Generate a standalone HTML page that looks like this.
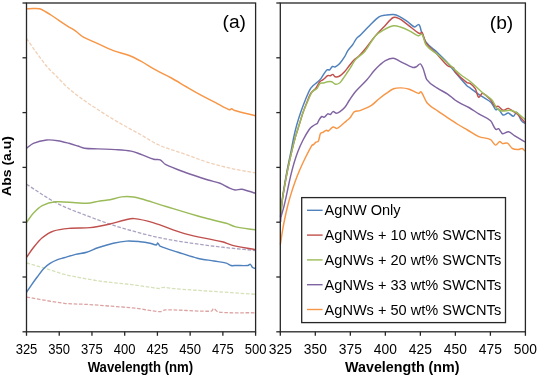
<!DOCTYPE html>
<html><head><meta charset="utf-8"><style>
html,body{margin:0;padding:0;background:#fff;}
body{width:540px;height:379px;overflow:hidden;}
svg{display:block;font-family:"Liberation Sans",sans-serif;will-change:transform;}
</style></head><body>
<svg width="540" height="379" viewBox="0 0 540 379">
<rect width="540" height="379" fill="#fff"/>
<g><path d="M26.50,297.10 C39.13,299.17 51.77,301.77 64.40,303.30 C71.83,304.20 79.27,303.95 86.70,304.40 C94.10,304.85 101.50,305.42 108.90,306.00 C117.60,306.68 126.30,307.24 135.00,308.20 C143.50,309.14 152.00,311.25 160.50,311.70 C162.00,311.78 163.50,309.81 165.00,309.80 C180.47,309.65 195.93,311.55 211.40,311.20 C212.17,311.18 212.93,308.60 213.70,308.70 C215.23,308.90 216.77,311.95 218.30,312.10 C230.70,313.32 243.10,312.57 255.50,312.80" fill="none" stroke="#DDA3A2" stroke-width="1.3" stroke-linejoin="round" stroke-linecap="butt" stroke-dasharray="3.6,1.7"/>
<path d="M26.50,263.00 C32.67,264.77 38.83,266.45 45.00,268.30 C51.47,270.25 57.93,272.76 64.40,274.40 C71.83,276.29 79.27,277.60 86.70,278.90 C94.10,280.20 101.50,281.27 108.90,282.20 C117.60,283.30 126.30,283.91 135.00,285.00 C143.10,286.01 151.20,287.80 159.30,288.50 C160.47,288.60 161.63,287.39 162.80,287.40 C166.87,287.45 170.93,288.37 175.00,288.70 C184.80,289.50 194.60,290.12 204.40,290.80 C221.43,291.98 238.47,293.13 255.50,294.30" fill="none" stroke="#D5E1B8" stroke-width="1.3" stroke-linejoin="round" stroke-linecap="butt" stroke-dasharray="3.6,1.7"/>
<path d="M26.50,184.20 C34.70,189.47 42.90,195.19 51.10,200.00 C56.30,203.05 61.50,205.52 66.70,207.80 C73.37,210.72 80.03,213.07 86.70,215.60 C94.10,218.41 101.50,221.31 108.90,223.80 C116.23,226.27 123.57,228.48 130.90,230.50 C140.37,233.11 149.83,235.71 159.30,237.70 C169.80,239.91 180.30,241.51 190.80,243.10 C201.27,244.68 211.73,246.00 222.20,247.20 C233.30,248.47 244.40,249.40 255.50,250.50" fill="none" stroke="#ABA2C2" stroke-width="1.3" stroke-linejoin="round" stroke-linecap="butt" stroke-dasharray="3.6,1.7"/>
<path d="M26.50,38.30 C29.70,42.93 32.90,47.78 36.10,52.20 C39.80,57.31 43.50,62.58 47.20,66.90 C50.87,71.18 54.53,74.32 58.20,78.00 C61.90,81.72 65.60,85.96 69.30,89.10 C75.10,94.02 80.90,98.05 86.70,102.20 C90.40,104.85 94.10,107.08 97.80,109.50 C101.50,111.92 105.20,114.44 108.90,116.70 C113.93,119.77 118.97,122.65 124.00,125.50 C129.33,128.52 134.67,131.32 140.00,134.30 C146.30,137.82 152.60,142.22 158.90,145.00 C167.53,148.82 176.17,151.07 184.80,154.10 C193.43,157.13 202.07,160.62 210.70,163.20 C219.37,165.79 228.03,167.74 236.70,169.60 C242.97,170.94 249.23,171.73 255.50,172.80" fill="none" stroke="#F1D0B8" stroke-width="1.3" stroke-linejoin="round" stroke-linecap="butt" stroke-dasharray="3.6,1.7"/>
<path d="M26.50,292.40 C28.30,289.70 30.10,286.89 31.90,284.30 C33.67,281.76 35.43,279.35 37.20,277.00 C39.40,274.08 41.60,270.80 43.80,268.50 C46.00,266.20 48.20,264.63 50.40,263.20 C52.60,261.77 54.80,260.77 57.00,259.90 C59.33,258.97 61.67,258.49 64.00,257.80 C67.87,256.66 71.73,255.35 75.60,254.40 C79.30,253.49 83.00,253.30 86.70,252.20 C90.40,251.10 94.10,249.04 97.80,247.80 C102.97,246.07 108.13,244.50 113.30,243.30 C117.77,242.26 122.23,241.37 126.70,241.10 C131.13,240.83 135.57,241.30 140.00,241.70 C143.33,242.00 146.67,242.53 150.00,243.20 C152.17,243.63 154.33,245.03 156.50,245.00 C156.90,244.99 157.30,242.97 157.70,243.10 C158.50,243.37 159.30,245.84 160.10,246.20 C166.10,248.88 172.10,250.27 178.10,252.20 C184.53,254.27 190.97,256.62 197.40,258.20 C202.93,259.56 208.47,260.06 214.00,261.00 C218.10,261.70 222.20,262.02 226.30,263.10 C227.90,263.52 229.50,265.10 231.10,265.50 C232.70,265.90 234.30,265.50 235.90,265.50 C239.93,265.50 243.97,265.83 248.00,265.50 C248.80,265.43 249.60,263.94 250.40,264.30 C251.10,264.61 251.80,266.94 252.50,267.50 C253.50,268.30 254.50,268.10 255.50,268.40" fill="none" stroke="#4F81BD" stroke-width="1.45" stroke-linejoin="round" stroke-linecap="butt"/>
<path d="M26.50,257.30 C28.77,254.13 31.03,250.62 33.30,247.80 C36.27,244.12 39.23,240.28 42.20,237.80 C45.90,234.71 49.60,232.33 53.30,231.10 C59.23,229.13 65.17,228.77 71.10,228.20 C77.40,227.60 83.70,228.27 90.00,227.60 C96.30,226.93 102.60,225.57 108.90,224.20 C114.27,223.03 119.63,221.19 125.00,220.00 C128.03,219.33 131.07,218.32 134.10,218.60 C140.40,219.19 146.70,220.72 153.00,222.60 C163.50,225.72 174.00,230.69 184.50,233.60 C197.07,237.09 209.63,238.74 222.20,241.80 C225.37,242.57 228.53,244.34 231.70,245.10 C239.63,247.01 247.57,248.23 255.50,249.80" fill="none" stroke="#C0504D" stroke-width="1.45" stroke-linejoin="round" stroke-linecap="butt"/>
<path d="M26.50,222.50 C28.77,219.43 31.03,215.74 33.30,213.30 C36.27,210.11 39.23,207.13 42.20,205.60 C46.67,203.30 51.13,202.19 55.60,201.80 C62.27,201.22 68.93,202.38 75.60,202.70 C79.30,202.88 83.00,203.56 86.70,203.30 C91.13,202.99 95.57,201.68 100.00,201.00 C103.33,200.48 106.67,200.33 110.00,199.70 C113.90,198.96 117.80,197.35 121.70,196.90 C125.57,196.45 129.43,196.52 133.30,197.00 C137.00,197.46 140.70,198.63 144.40,199.70 C151.63,201.80 158.87,204.30 166.10,206.50 C178.13,210.16 190.17,213.94 202.20,217.30 C210.23,219.54 218.27,221.01 226.30,223.30 C229.50,224.21 232.70,226.19 235.90,226.90 C242.43,228.35 248.97,228.83 255.50,229.80" fill="none" stroke="#9BBB59" stroke-width="1.45" stroke-linejoin="round" stroke-linecap="butt"/>
<path d="M26.50,148.30 C28.77,146.63 31.03,144.23 33.30,143.30 C37.77,141.46 42.23,140.47 46.70,140.00 C50.40,139.61 54.10,140.15 57.80,140.70 C61.50,141.25 65.20,142.32 68.90,143.30 C71.87,144.09 74.83,145.06 77.80,146.00 C80.00,146.70 82.20,147.88 84.40,148.20 C88.87,148.85 93.33,148.70 97.80,148.90 C103.73,149.17 109.67,149.21 115.60,149.60 C120.77,149.94 125.93,150.17 131.10,151.10 C134.07,151.63 137.03,152.92 140.00,154.00 C144.57,155.66 149.13,157.99 153.70,159.30 C155.87,159.92 158.03,158.86 160.20,159.80 C161.93,160.56 163.67,163.53 165.40,164.40 C171.87,167.66 178.33,169.84 184.80,172.20 C192.57,175.04 200.33,177.55 208.10,180.00 C212.07,181.25 216.03,181.83 220.00,183.30 C222.77,184.33 225.53,186.26 228.30,187.50 C230.53,188.50 232.77,189.72 235.00,190.00 C237.23,190.28 239.47,188.84 241.70,189.20 C246.30,189.94 250.90,191.93 255.50,193.30" fill="none" stroke="#8064A2" stroke-width="1.45" stroke-linejoin="round" stroke-linecap="butt"/>
<path d="M26.50,8.90 C28.67,8.77 30.83,8.52 33.00,8.50 C35.17,8.48 37.33,8.22 39.50,8.80 C41.67,9.38 43.83,10.81 46.00,12.00 C47.90,13.04 49.80,14.25 51.70,15.50 C56.97,18.95 62.23,22.68 67.50,26.10 C70.13,27.81 72.77,29.06 75.40,30.90 C78.07,32.76 80.73,35.65 83.40,37.20 C87.27,39.45 91.13,40.57 95.00,42.30 C101.10,45.03 107.20,48.24 113.30,50.60 C118.40,52.57 123.50,53.33 128.60,55.30 C132.67,56.87 136.73,59.00 140.80,61.20 C145.90,63.96 151.00,67.40 156.10,70.20 C161.20,73.00 166.30,75.20 171.40,78.00 C176.50,80.80 181.60,84.06 186.70,87.00 C191.77,89.92 196.83,92.84 201.90,95.60 C207.00,98.38 212.10,100.97 217.20,103.60 C221.27,105.70 225.33,108.33 229.40,109.80 C230.13,110.06 230.87,108.72 231.60,108.80 C232.40,108.89 233.20,110.07 234.00,110.30 C241.17,112.40 248.33,113.97 255.50,115.80" fill="none" stroke="#F79646" stroke-width="1.45" stroke-linejoin="round" stroke-linecap="butt"/></g>
<g><path d="M280.60,216.00 C281.07,211.00 281.53,204.71 282.00,201.00 C282.83,194.38 283.67,189.97 284.50,185.00 C285.40,179.63 286.30,174.65 287.20,170.00 C288.57,162.95 289.93,156.75 291.30,149.90 C292.10,145.89 292.90,141.05 293.70,137.40 C294.73,132.68 295.77,128.48 296.80,124.80 C298.13,120.05 299.47,115.98 300.80,112.10 C302.37,107.54 303.93,103.38 305.50,99.50 C306.93,95.95 308.37,92.39 309.80,89.80 C310.93,87.75 312.07,86.75 313.20,85.60 C314.53,84.25 315.87,83.52 317.20,82.30 C318.50,81.12 319.80,80.06 321.10,78.40 C322.20,76.99 323.30,74.70 324.40,73.10 C325.27,71.84 326.13,70.34 327.00,69.80 C327.90,69.24 328.80,70.36 329.70,69.80 C330.57,69.26 331.43,66.96 332.30,66.50 C333.20,66.02 334.10,67.36 335.00,67.00 C336.57,66.36 338.13,65.17 339.70,63.50 C341.30,61.80 342.90,59.43 344.50,56.90 C345.67,55.06 346.83,52.14 348.00,50.40 C349.60,48.01 351.20,46.75 352.80,44.50 C354.00,42.81 355.20,40.08 356.40,38.60 C357.77,36.91 359.13,36.34 360.50,35.00 C363.50,32.07 366.50,28.74 369.50,25.80 C372.67,22.70 375.83,18.94 379.00,16.90 C381.37,15.37 383.73,15.50 386.10,15.10 C388.50,14.70 390.90,14.28 393.30,14.50 C395.27,14.68 397.23,15.32 399.20,16.30 C401.97,17.68 404.73,19.68 407.50,21.60 C409.87,23.24 412.23,26.34 414.60,27.00 C415.80,27.34 417.00,24.73 418.20,24.60 C418.80,24.53 419.40,25.14 420.00,26.40 C420.40,27.24 420.80,29.85 421.20,30.90 C422.77,35.02 424.33,39.78 425.90,41.90 C429.57,46.85 433.23,48.60 436.90,52.10 C440.00,55.06 443.10,57.89 446.20,61.30 C449.13,64.53 452.07,68.54 455.00,72.00 C458.97,76.68 462.93,81.50 466.90,85.70 C467.93,86.80 468.97,87.14 470.00,87.90 C471.77,89.20 473.53,90.66 475.30,91.90 C477.93,93.76 480.57,95.45 483.20,97.20 C485.83,98.95 488.47,99.77 491.10,102.40 C492.63,103.93 494.17,108.31 495.70,109.70 C496.60,110.51 497.50,108.35 498.40,109.00 C499.93,110.11 501.47,114.38 503.00,115.00 C504.77,115.71 506.53,112.78 508.30,113.00 C510.03,113.21 511.77,116.44 513.50,116.30 C514.60,116.21 515.70,111.67 516.80,112.30 C518.37,113.20 519.93,118.86 521.50,120.90 C522.80,122.59 524.10,122.63 525.40,123.50" fill="none" stroke="#4F81BD" stroke-width="1.45" stroke-linejoin="round" stroke-linecap="butt"/>
<path d="M280.60,217.00 C281.13,211.67 281.67,205.06 282.20,201.00 C283.07,194.40 283.93,189.98 284.80,185.00 C285.73,179.64 286.67,174.49 287.60,170.00 C289.10,162.79 290.60,156.25 292.10,149.90 C293.17,145.38 294.23,141.17 295.30,137.40 C296.60,132.80 297.90,128.96 299.20,124.80 C300.53,120.53 301.87,115.93 303.20,112.10 C304.80,107.50 306.40,103.42 308.00,99.50 C309.00,97.05 310.00,94.44 311.00,93.00 C312.60,90.70 314.20,90.35 315.80,88.30 C317.13,86.59 318.47,83.27 319.80,81.70 C320.90,80.40 322.00,80.54 323.10,79.70 C324.63,78.54 326.17,76.55 327.70,75.70 C328.57,75.22 329.43,75.91 330.30,75.70 C331.20,75.48 332.10,74.19 333.00,74.40 C333.67,74.56 334.33,76.64 335.00,76.80 C336.57,77.17 338.13,76.82 339.70,76.00 C341.30,75.16 342.90,73.52 344.50,71.80 C346.07,70.12 347.63,67.76 349.20,65.80 C350.80,63.80 352.40,61.52 354.00,59.90 C355.57,58.32 357.13,57.72 358.70,56.20 C360.80,54.16 362.90,51.77 365.00,49.20 C368.10,45.40 371.20,40.76 374.30,37.10 C377.47,33.36 380.63,30.27 383.80,27.00 C386.97,23.73 390.13,19.21 393.30,17.50 C395.27,16.44 397.23,17.72 399.20,18.70 C401.97,20.08 404.73,22.53 407.50,24.60 C411.07,27.27 414.63,30.36 418.20,32.90 C418.80,33.33 419.40,33.53 420.00,33.50 C420.73,33.46 421.47,31.53 422.20,32.70 C423.43,34.66 424.67,41.11 425.90,42.90 C429.57,48.21 433.23,50.17 436.90,54.00 C440.60,57.87 444.30,62.94 448.00,66.00 C449.87,67.54 451.73,66.25 453.60,67.80 C454.07,68.19 454.53,71.28 455.00,71.80 C458.97,76.24 462.93,79.66 466.90,82.70 C467.93,83.49 468.97,82.57 470.00,83.30 C471.77,84.54 473.53,85.74 475.30,88.60 C476.40,90.38 477.50,96.50 478.60,97.20 C479.90,98.03 481.20,92.87 482.50,93.20 C485.37,93.93 488.23,97.40 491.10,100.40 C492.43,101.80 493.77,105.30 495.10,106.40 C496.20,107.30 497.30,105.86 498.40,106.40 C499.93,107.16 501.47,109.99 503.00,110.30 C504.77,110.66 506.53,108.16 508.30,108.40 C510.03,108.63 511.77,110.59 513.50,111.70 C514.83,112.56 516.17,113.05 517.50,114.30 C520.13,116.78 522.77,120.03 525.40,122.90" fill="none" stroke="#C0504D" stroke-width="1.45" stroke-linejoin="round" stroke-linecap="butt"/>
<path d="M280.60,217.00 C281.13,211.67 281.67,205.06 282.20,201.00 C283.07,194.40 283.93,189.98 284.80,185.00 C285.73,179.64 286.67,174.49 287.60,170.00 C289.10,162.79 290.60,156.25 292.10,149.90 C293.17,145.38 294.23,141.17 295.30,137.40 C296.60,132.80 297.90,128.96 299.20,124.80 C300.53,120.53 301.87,115.73 303.20,112.10 C304.97,107.29 306.73,103.54 308.50,99.50 C309.63,96.91 310.77,93.66 311.90,92.20 C313.67,89.93 315.43,90.22 317.20,88.30 C318.07,87.36 318.93,84.31 319.80,83.60 C321.10,82.54 322.40,83.31 323.70,83.00 C325.03,82.68 326.37,81.92 327.70,81.70 C329.03,81.48 330.37,81.26 331.70,81.70 C333.00,82.13 334.30,84.09 335.60,84.30 C336.93,84.52 338.27,83.88 339.60,83.00 C340.43,82.45 341.27,81.14 342.10,80.00 C343.70,77.81 345.30,75.39 346.90,73.00 C348.47,70.66 350.03,68.27 351.60,65.80 C352.80,63.91 354.00,61.21 355.20,59.90 C358.47,56.34 361.73,55.08 365.00,51.20 C368.47,47.08 371.93,39.83 375.40,35.90 C378.20,32.73 381.00,31.48 383.80,29.90 C386.97,28.11 390.13,26.35 393.30,25.80 C395.67,25.39 398.03,26.24 400.40,27.00 C403.57,28.01 406.73,29.52 409.90,31.10 C412.67,32.48 415.43,35.11 418.20,35.90 C419.53,36.28 420.87,33.08 422.20,34.60 C423.43,36.01 424.67,43.07 425.90,44.70 C429.57,49.54 433.23,50.90 436.90,54.00 C441.23,57.67 445.57,61.19 449.90,65.00 C451.60,66.49 453.30,68.37 455.00,69.90 C457.00,71.70 459.00,73.48 461.00,75.00 C464.00,77.28 467.00,78.84 470.00,81.30 C474.40,84.91 478.80,89.45 483.20,93.20 C486.27,95.81 489.33,97.03 492.40,100.40 C493.73,101.86 495.07,106.18 496.40,107.70 C498.17,109.71 499.93,110.65 501.70,111.00 C504.33,111.52 506.97,110.06 509.60,110.30 C511.80,110.50 514.00,111.01 516.20,112.30 C519.27,114.11 522.33,117.17 525.40,119.60" fill="none" stroke="#9BBB59" stroke-width="1.45" stroke-linejoin="round" stroke-linecap="butt"/>
<path d="M280.60,222.00 C280.70,220.53 280.80,218.07 280.90,217.60 C281.90,212.93 282.90,210.60 283.90,206.60 C284.73,203.27 285.57,199.42 286.40,195.60 C287.17,192.09 287.93,188.11 288.70,184.60 C289.53,180.78 290.37,176.95 291.20,173.60 C292.20,169.58 293.20,165.80 294.20,162.50 C295.43,158.43 296.67,154.66 297.90,151.50 C299.53,147.32 301.17,143.68 302.80,140.50 C304.93,136.35 307.07,132.54 309.20,129.50 C310.53,127.60 311.87,126.74 313.20,125.70 C314.30,124.84 315.40,124.35 316.50,123.80 C316.73,123.68 316.97,124.06 317.20,123.70 C317.83,122.73 318.47,120.79 319.10,119.80 C320.00,118.39 320.90,116.94 321.80,116.50 C322.67,116.07 323.53,117.58 324.40,117.20 C325.50,116.72 326.60,114.40 327.70,113.90 C328.57,113.50 329.43,114.88 330.30,114.50 C331.20,114.11 332.10,111.79 333.00,111.60 C334.10,111.36 335.20,113.15 336.30,113.20 C337.40,113.25 338.50,112.65 339.60,111.90 C341.37,110.69 343.13,109.42 344.90,107.30 C346.43,105.46 347.97,102.25 349.50,100.00 C351.60,96.92 353.70,93.74 355.80,91.30 C359.43,87.08 363.07,84.07 366.70,80.00 C369.23,77.17 371.77,73.50 374.30,70.60 C376.20,68.43 378.10,66.51 380.00,64.80 C381.80,63.18 383.60,61.48 385.40,60.60 C388.03,59.31 390.67,58.17 393.30,58.30 C395.53,58.41 397.77,60.25 400.00,61.30 C404.30,63.32 408.60,66.13 412.90,67.50 C414.13,67.89 415.37,67.20 416.60,66.60 C417.83,66.00 419.07,63.54 420.30,63.90 C421.23,64.17 422.17,66.25 423.10,68.50 C424.33,71.48 425.57,77.87 426.80,79.60 C430.17,84.33 433.53,85.57 436.90,87.90 C440.60,90.47 444.30,91.83 448.00,94.30 C450.33,95.86 452.67,98.33 455.00,100.00 C457.00,101.43 459.00,102.52 461.00,103.60 C463.63,105.02 466.27,105.98 468.90,107.50 C472.20,109.41 475.50,111.88 478.80,113.90 C482.73,116.31 486.67,117.19 490.60,120.80 C492.27,122.33 493.93,127.65 495.60,129.30 C496.60,130.29 497.60,128.06 498.60,128.70 C499.90,129.53 501.20,133.31 502.50,133.70 C504.50,134.31 506.50,131.38 508.50,131.70 C510.47,132.01 512.43,134.37 514.40,135.60 C517.93,137.81 521.47,139.87 525.00,142.00" fill="none" stroke="#8064A2" stroke-width="1.45" stroke-linejoin="round" stroke-linecap="butt"/>
<path d="M280.40,244.30 C281.03,240.17 281.67,235.64 282.30,231.90 C283.07,227.37 283.83,223.24 284.60,219.50 C285.53,214.94 286.47,210.75 287.40,207.00 C288.53,202.45 289.67,198.35 290.80,194.60 C292.17,190.08 293.53,185.97 294.90,182.20 C296.53,177.70 298.17,173.60 299.80,169.80 C301.73,165.30 303.67,161.18 305.60,157.30 C307.80,152.88 310.00,148.49 312.20,144.90 C312.53,144.36 312.87,145.15 313.20,144.90 C314.13,144.21 315.07,142.80 316.00,142.10 C316.83,141.47 317.67,142.51 318.50,140.90 C319.13,139.68 319.77,134.78 320.40,133.60 C321.30,131.92 322.20,132.80 323.10,132.30 C324.20,131.70 325.30,130.57 326.40,130.30 C327.07,130.14 327.73,131.33 328.40,131.00 C329.93,130.23 331.47,127.47 333.00,127.00 C334.30,126.60 335.60,128.61 336.90,128.40 C338.23,128.18 339.57,126.75 340.90,125.70 C342.67,124.31 344.43,122.62 346.20,121.10 C347.50,119.98 348.80,119.31 350.10,117.80 C351.43,116.25 352.77,112.87 354.10,111.90 C356.07,110.47 358.03,111.34 360.00,110.60 C363.80,109.17 367.60,107.74 371.40,105.40 C373.87,103.88 376.33,101.00 378.80,99.00 C381.27,97.00 383.73,95.10 386.20,93.40 C388.67,91.70 391.13,89.72 393.60,88.80 C396.07,87.88 398.53,87.84 401.00,87.90 C403.73,87.97 406.47,88.34 409.20,89.20 C412.30,90.17 415.40,92.65 418.50,93.40 C419.40,93.62 420.30,91.10 421.20,92.10 C423.27,94.40 425.33,100.95 427.40,103.30 C430.93,107.32 434.47,108.72 438.00,111.20 C442.20,114.15 446.40,116.81 450.60,119.60 C453.07,121.24 455.53,122.98 458.00,124.50 C461.17,126.45 464.33,128.16 467.50,130.00 C471.27,132.19 475.03,135.03 478.80,136.60 C482.73,138.23 486.67,137.61 490.60,139.60 C492.27,140.44 493.93,144.73 495.60,145.10 C496.93,145.40 498.27,141.89 499.60,141.60 C500.57,141.39 501.53,143.40 502.50,143.60 C504.17,143.94 505.83,142.38 507.50,143.20 C509.13,144.01 510.77,147.56 512.40,148.50 C514.40,149.66 516.40,149.50 518.40,149.50 C519.70,149.50 521.00,148.18 522.30,148.50 C523.20,148.72 524.10,150.23 525.00,151.10" fill="none" stroke="#F79646" stroke-width="1.45" stroke-linejoin="round" stroke-linecap="butt"/></g>
<rect x="26.5" y="3.0" width="229.1" height="328.8" fill="none" stroke="#262626" stroke-width="1.3"/>
<line x1="22.5" y1="3.00" x2="26.5" y2="3.00" stroke="#262626" stroke-width="1.3"/>
<line x1="22.5" y1="57.80" x2="26.5" y2="57.80" stroke="#262626" stroke-width="1.3"/>
<line x1="22.5" y1="112.60" x2="26.5" y2="112.60" stroke="#262626" stroke-width="1.3"/>
<line x1="22.5" y1="167.40" x2="26.5" y2="167.40" stroke="#262626" stroke-width="1.3"/>
<line x1="22.5" y1="222.20" x2="26.5" y2="222.20" stroke="#262626" stroke-width="1.3"/>
<line x1="22.5" y1="277.00" x2="26.5" y2="277.00" stroke="#262626" stroke-width="1.3"/>
<line x1="22.5" y1="331.80" x2="26.5" y2="331.80" stroke="#262626" stroke-width="1.3"/>
<line x1="26.50" y1="331.8" x2="26.50" y2="335.8" stroke="#262626" stroke-width="1.3"/>
<line x1="59.23" y1="331.8" x2="59.23" y2="335.8" stroke="#262626" stroke-width="1.3"/>
<line x1="91.96" y1="331.8" x2="91.96" y2="335.8" stroke="#262626" stroke-width="1.3"/>
<line x1="124.69" y1="331.8" x2="124.69" y2="335.8" stroke="#262626" stroke-width="1.3"/>
<line x1="157.41" y1="331.8" x2="157.41" y2="335.8" stroke="#262626" stroke-width="1.3"/>
<line x1="190.14" y1="331.8" x2="190.14" y2="335.8" stroke="#262626" stroke-width="1.3"/>
<line x1="222.87" y1="331.8" x2="222.87" y2="335.8" stroke="#262626" stroke-width="1.3"/>
<line x1="255.60" y1="331.8" x2="255.60" y2="335.8" stroke="#262626" stroke-width="1.3"/>
<rect x="280.3" y="3.0" width="245.1" height="328.8" fill="none" stroke="#262626" stroke-width="1.3"/>
<line x1="276.3" y1="3.00" x2="280.3" y2="3.00" stroke="#262626" stroke-width="1.3"/>
<line x1="276.3" y1="57.80" x2="280.3" y2="57.80" stroke="#262626" stroke-width="1.3"/>
<line x1="276.3" y1="112.60" x2="280.3" y2="112.60" stroke="#262626" stroke-width="1.3"/>
<line x1="276.3" y1="167.40" x2="280.3" y2="167.40" stroke="#262626" stroke-width="1.3"/>
<line x1="276.3" y1="222.20" x2="280.3" y2="222.20" stroke="#262626" stroke-width="1.3"/>
<line x1="276.3" y1="277.00" x2="280.3" y2="277.00" stroke="#262626" stroke-width="1.3"/>
<line x1="276.3" y1="331.80" x2="280.3" y2="331.80" stroke="#262626" stroke-width="1.3"/>
<line x1="280.30" y1="331.8" x2="280.30" y2="335.8" stroke="#262626" stroke-width="1.3"/>
<line x1="315.31" y1="331.8" x2="315.31" y2="335.8" stroke="#262626" stroke-width="1.3"/>
<line x1="350.33" y1="331.8" x2="350.33" y2="335.8" stroke="#262626" stroke-width="1.3"/>
<line x1="385.34" y1="331.8" x2="385.34" y2="335.8" stroke="#262626" stroke-width="1.3"/>
<line x1="420.36" y1="331.8" x2="420.36" y2="335.8" stroke="#262626" stroke-width="1.3"/>
<line x1="455.37" y1="331.8" x2="455.37" y2="335.8" stroke="#262626" stroke-width="1.3"/>
<line x1="490.39" y1="331.8" x2="490.39" y2="335.8" stroke="#262626" stroke-width="1.3"/>
<line x1="525.40" y1="331.8" x2="525.40" y2="335.8" stroke="#262626" stroke-width="1.3"/>
<text transform="translate(26.50,354.0) scale(0.88,1)" text-anchor="middle" font-size="14.8">325</text>
<text transform="translate(59.23,354.0) scale(0.88,1)" text-anchor="middle" font-size="14.8">350</text>
<text transform="translate(91.96,354.0) scale(0.88,1)" text-anchor="middle" font-size="14.8">375</text>
<text transform="translate(124.69,354.0) scale(0.88,1)" text-anchor="middle" font-size="14.8">400</text>
<text transform="translate(157.41,354.0) scale(0.88,1)" text-anchor="middle" font-size="14.8">425</text>
<text transform="translate(190.14,354.0) scale(0.88,1)" text-anchor="middle" font-size="14.8">450</text>
<text transform="translate(222.87,354.0) scale(0.88,1)" text-anchor="middle" font-size="14.8">475</text>
<text transform="translate(255.60,354.0) scale(0.88,1)" text-anchor="middle" font-size="14.8">500</text>
<text transform="translate(280.30,354.0) scale(0.935,1)" text-anchor="middle" font-size="14.8">325</text>
<text transform="translate(315.31,354.0) scale(0.935,1)" text-anchor="middle" font-size="14.8">350</text>
<text transform="translate(350.33,354.0) scale(0.935,1)" text-anchor="middle" font-size="14.8">375</text>
<text transform="translate(385.34,354.0) scale(0.935,1)" text-anchor="middle" font-size="14.8">400</text>
<text transform="translate(420.36,354.0) scale(0.935,1)" text-anchor="middle" font-size="14.8">425</text>
<text transform="translate(455.37,354.0) scale(0.935,1)" text-anchor="middle" font-size="14.8">450</text>
<text transform="translate(490.39,354.0) scale(0.935,1)" text-anchor="middle" font-size="14.8">475</text>
<text transform="translate(525.40,354.0) scale(0.935,1)" text-anchor="middle" font-size="14.8">500</text>
<text x="234.3" y="28.3" text-anchor="middle" font-size="19.2">(a)</text>
<text x="501.5" y="29" text-anchor="middle" font-size="19.2">(b)</text>
<text transform="translate(140.4,372.3) scale(0.94,1)" text-anchor="middle" font-size="14" font-weight="bold">Wavelength (nm)</text>
<text transform="translate(402.3,372.3) scale(1.02,1)" text-anchor="middle" font-size="14" font-weight="bold">Wavelength (nm)</text>
<text transform="translate(11.1,166) rotate(-90) scale(1.0,0.96)" text-anchor="middle" font-size="14" font-weight="bold">Abs (a.u)</text>
<g><rect x="301.7" y="197.6" width="203.8" height="125" fill="#fff" stroke="#262626" stroke-width="1.3"/>
<line x1="307" y1="210.3" x2="322.6" y2="210.3" stroke="#4F81BD" stroke-width="1.4"/>
<text transform="translate(324.6,215.3) scale(1.04,1)" font-size="14">AgNW Only</text>
<line x1="307" y1="235.1" x2="322.6" y2="235.1" stroke="#C0504D" stroke-width="1.4"/>
<text transform="translate(324.6,240.1) scale(1.04,1)" font-size="14">AgNWs + 10 wt% SWCNTs</text>
<line x1="307" y1="259.9" x2="322.6" y2="259.9" stroke="#9BBB59" stroke-width="1.4"/>
<text transform="translate(324.6,264.9) scale(1.04,1)" font-size="14">AgNWs + 20 wt% SWCNTs</text>
<line x1="307" y1="284.7" x2="322.6" y2="284.7" stroke="#8064A2" stroke-width="1.4"/>
<text transform="translate(324.6,289.7) scale(1.04,1)" font-size="14">AgNWs + 33 wt% SWCNTs</text>
<line x1="307" y1="309.5" x2="322.6" y2="309.5" stroke="#F79646" stroke-width="1.4"/>
<text transform="translate(324.6,314.5) scale(1.04,1)" font-size="14">AgNWs + 50 wt% SWCNTs</text></g>
</svg>
</body></html>
